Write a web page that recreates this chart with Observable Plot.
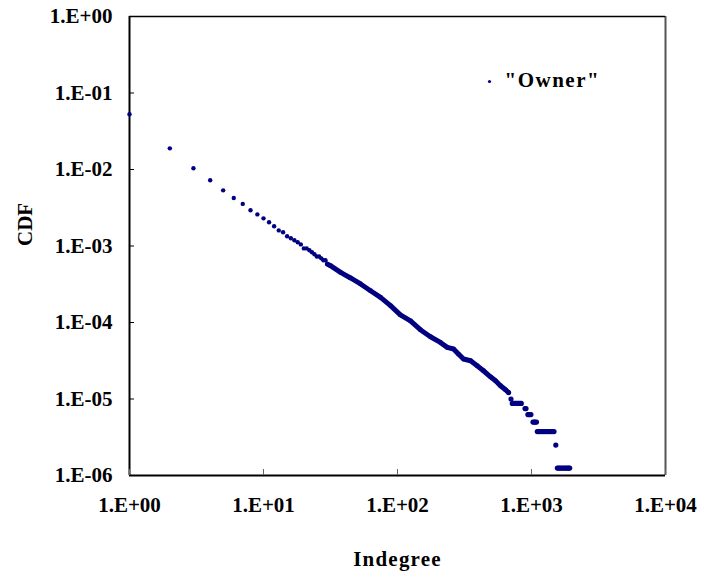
<!DOCTYPE html>
<html><head><meta charset="utf-8">
<script src="https://cdn.jsdelivr.net/npm/d3@7"></script>
<script src="https://cdn.jsdelivr.net/npm/@observablehq/plot@0.6"></script>
<style>
body{margin:0;background:#fff;}
#chart svg text{font-family:"Liberation Serif","Times New Roman",serif;font-weight:bold;}
</style></head><body><div id="chart"></div>
<script>
const seriesName = '"Owner"';
const xTitle = "Indegree";
const yTitle = "CDF";
const xTicks = [1, 10, 100, 1000, 10000];
const xTickLabels = ["1.E+00", "1.E+01", "1.E+02", "1.E+03", "1.E+04"];
const yTicks = [1, 0.1, 0.01, 0.001, 1e-4, 1e-5, 1e-6];
const yTickLabels = ["1.E+00", "1.E-01", "1.E-02", "1.E-03", "1.E-04", "1.E-05", "1.E-06"];

// individually visible points (low degrees)
const discreteDegree = [1,2,3,4,5,6,7,8,9,10,11,12,13,14,15,16,17,18,19,20,21,22,23,24,25,26,27,28,29,30];
const discreteCdf = [0.0527,0.0189,0.0104,0.00722,0.00534,0.00425,0.00355,0.00293,0.00259,0.0023,0.00204,0.00181,0.0016,0.00151,0.00134,0.00126,0.00119,0.00112,0.00105,0.00093,0.00093,0.00088,0.00083,0.00078,0.00073,0.00073,0.00069,0.00065,0.00065,0.00058];

// dense band (mid degrees)
const bandDegree = [30,31.6,37.6,44.6,53,62.9,74.7,88.7,105,125,148,176,209,235,262,285,311,351,393,438,494,539,587,640,675];
const bandCdf = [5.8e-4,5.53e-4,4.52e-4,3.82e-4,3.19e-4,2.6e-4,2.13e-4,1.66e-4,1.26e-4,1.05e-4,8.05e-5,6.52e-5,5.49e-5,4.73e-5,4.5e-5,3.87e-5,3.33e-5,3.16e-5,2.72e-5,2.34e-5,1.95e-5,1.73e-5,1.49e-5,1.32e-5,1.21e-5];

// stepped tail (high degrees)
const tailDegree = [703,719,735,750,765,780,795,810,825,839,895,910,940,955,970,990,1026,1045,1065,1089,1105,1130,1160,1190,1220,1250,1285,1320,1355,1390,1430,1472,1518,1559,1590,1625,1660,1700,1740,1780,1820,1860,1900,1928];
const tailCdf = [1.0e-5,8.75e-6,8.75e-6,8.75e-6,8.75e-6,8.75e-6,8.75e-6,8.75e-6,8.75e-6,8.75e-6,7.5e-6,7.5e-6,6.25e-6,6.25e-6,6.25e-6,6.25e-6,5.0e-6,5.0e-6,5.0e-6,5.0e-6,3.75e-6,3.75e-6,3.75e-6,3.75e-6,3.75e-6,3.75e-6,3.75e-6,3.75e-6,3.75e-6,3.75e-6,3.75e-6,3.75e-6,2.5e-6,1.25e-6,1.25e-6,1.25e-6,1.25e-6,1.25e-6,1.25e-6,1.25e-6,1.25e-6,1.25e-6,1.25e-6,1.25e-6];

const color = "#000080";
const discrete = discreteDegree.map((d, i) => ({x: d, y: discreteCdf[i]}));
const band = bandDegree.map((d, i) => ({x: d, y: bandCdf[i]}));
const tail = tailDegree.map((d, i) => ({x: d, y: tailCdf[i]}));

const plot = Plot.plot({
  width: 702, height: 576,
  marginLeft: 129, marginRight: 37, marginTop: 16, marginBottom: 101,
  style: {fontFamily: "Liberation Serif", fontWeight: "bold", fontSize: "21px", color: "black", background: "white"},
  x: {type: "log", domain: [1, 1e4]},
  y: {type: "log", domain: [1e-6, 1]},
  marks: [
    Plot.ruleX([1e4], {stroke: "#555", strokeWidth: 2}),
    Plot.ruleY([1], {stroke: "black", strokeWidth: 1.5}),
    Plot.ruleX([1], {stroke: "black", strokeWidth: 2}),
    Plot.ruleY([1e-6], {stroke: "black", strokeWidth: 2}),
    Plot.axisX(xTicks, {tickSize: -6, tickPadding: 28, tickFormat: d => xTickLabels[xTicks.indexOf(d)], label: null, stroke: "#666"}),
    Plot.axisY(yTicks, {tickSize: -5, tickPadding: 22, tickFormat: d => yTickLabels[yTicks.indexOf(d)], label: null}),
    Plot.line(band, {x: "x", y: "y", stroke: color, strokeWidth: 5, strokeLinecap: "round", strokeLinejoin: "round"}),
    Plot.dot(band, {x: "x", y: "y", r: 2.4, fill: color}),
    Plot.dot(discrete, {x: "x", y: "y", r: 2.2, fill: color}),
    Plot.dot(tail, {x: "x", y: "y", r: 2.6, fill: color}),
    Plot.text([xTitle], {frameAnchor: "bottom", dy: 90, lineAnchor: "bottom", fontSize: 21}),
    Plot.text([yTitle], {frameAnchor: "left", dx: -104, rotate: -90, lineAnchor: "middle", fontSize: 21}),
    Plot.dot([seriesName], {frameAnchor: "top-left", dx: 360, dy: 65, r: 1.6, fill: color}),
    Plot.text([seriesName], {frameAnchor: "top-left", dx: 375, dy: 64, textAnchor: "start", lineAnchor: "middle", fontSize: 21})
  ]
});
document.getElementById("chart").appendChild(plot);
d3.select(plot).selectAll("text").each(function() {
  const t = this.textContent;
  if (t === xTitle) this.setAttribute("letter-spacing", "1.2");
  if (t === seriesName) this.setAttribute("letter-spacing", "1.5");
});
</script></body></html>
